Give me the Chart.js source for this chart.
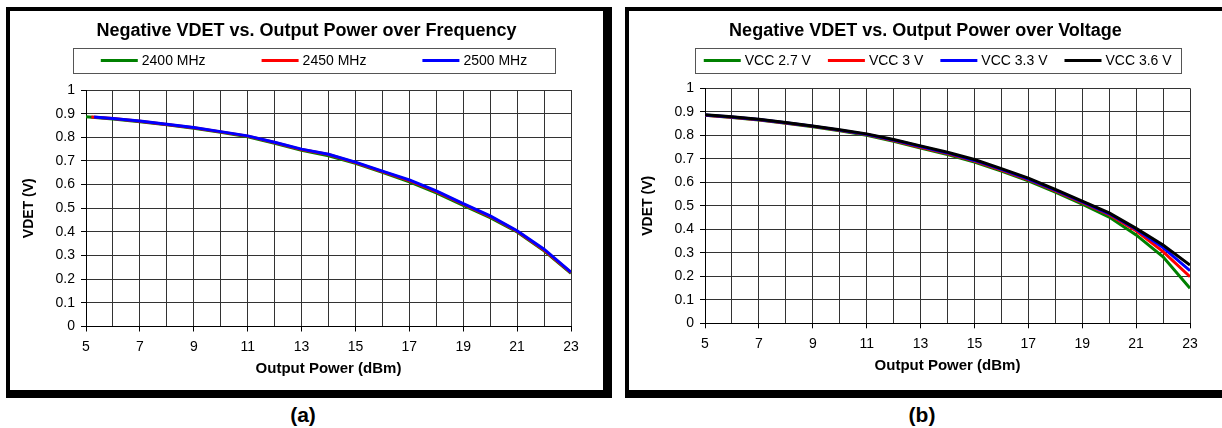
<!DOCTYPE html>
<html>
<head>
<meta charset="utf-8">
<script src="https://cdn.jsdelivr.net/npm/chart.js@4.4.1/dist/chart.umd.min.js"></script>
<style>
  html, body { margin: 0; padding: 0; background: #fff; width: 1222px; height: 428px; overflow: hidden;
    font-family: "Liberation Sans", Arial, sans-serif; }
  .panel { position: absolute; top: 7px; width: 593px; height: 379px; background: #fff;
    border-style: solid; border-color: #000; border-width: 4px 9px 8px 4px; }
  #panelA { left: 6px; }
  #panelB { left: 625px; }
  .panel canvas { display: block; }
  .cap { position: absolute; top: 403px; width: 100px; text-align: center; font-weight: bold;
    font-size: 21px; line-height: 24px; color: #000; }
</style>
</head>
<body>
<div class="panel" id="panelA"><canvas id="chartA" width="593" height="379"></canvas></div>
<div class="panel" id="panelB"><canvas id="chartB" width="593" height="379"></canvas></div>
<div class="cap" style="left:253px">(a)</div>
<div class="cap" style="left:872px">(b)</div>
<script>
// Output power sweep (dBm)
const powerDbm  = [5, 6, 7, 8, 9, 10, 11, 12, 13, 14, 15, 16, 17, 18, 19, 20, 21, 22, 23];
const power2450 = [5.2, 6, 7, 8, 9, 10, 11, 12, 13, 14, 15, 16, 17, 18, 19, 20, 21, 22, 23];
const power2500 = [5.3, 6, 7, 8, 9, 10, 11, 12, 13, 14, 15, 16, 17, 18, 19, 20, 21, 22, 23];

// Negative VDET (V) over frequency
const vdet2400 = [0.887, 0.877, 0.866, 0.853, 0.838, 0.821, 0.802, 0.775, 0.745, 0.722, 0.690, 0.652, 0.612, 0.565, 0.512, 0.460, 0.400, 0.320, 0.225];
const vdet2450 = [0.886, 0.879, 0.868, 0.854, 0.840, 0.823, 0.805, 0.778, 0.748, 0.727, 0.693, 0.655, 0.617, 0.570, 0.517, 0.465, 0.403, 0.323, 0.228];
const vdet2500 = [0.886, 0.880, 0.869, 0.855, 0.841, 0.824, 0.806, 0.779, 0.750, 0.728, 0.695, 0.657, 0.620, 0.573, 0.520, 0.468, 0.405, 0.327, 0.230];

// Negative VDET (V) over supply voltage
const vcc27 = [0.885, 0.876, 0.865, 0.851, 0.836, 0.819, 0.800, 0.775, 0.746, 0.718, 0.686, 0.648, 0.606, 0.558, 0.507, 0.452, 0.376, 0.283, 0.149];
const vcc30 = [0.885, 0.877, 0.866, 0.852, 0.838, 0.821, 0.803, 0.778, 0.749, 0.722, 0.690, 0.652, 0.611, 0.564, 0.514, 0.462, 0.394, 0.305, 0.198];
const vcc33 = [0.886, 0.878, 0.867, 0.853, 0.839, 0.822, 0.804, 0.780, 0.752, 0.725, 0.693, 0.655, 0.614, 0.567, 0.517, 0.466, 0.400, 0.322, 0.224];
const vcc36 = [0.887, 0.879, 0.868, 0.854, 0.840, 0.824, 0.806, 0.782, 0.755, 0.728, 0.697, 0.658, 0.618, 0.570, 0.520, 0.470, 0.404, 0.333, 0.248];

// Axis tick labels
const xTickLabels = [5, 7, 9, 11, 13, 15, 17, 19, 21, 23];
const yTickLabels = ['0', '0.1', '0.2', '0.3', '0.4', '0.5', '0.6', '0.7', '0.8', '0.9', '1'];

const FONT = '"Liberation Sans", Arial, sans-serif';
const GRID = '#333';

const pairs = (xs, ys) => xs.map((x, i) => ({ x: x, y: ys[i] }));

// Framed one-row legend with line samples
const boxedLegend = {
  id: 'boxedLegend',
  afterDraw(chart, args, opts) {
    const ctx = chart.ctx;
    ctx.save();
    ctx.font = '14px ' + FONT;
    const lineLen = 37, textGap = 4;
    const items = chart.data.datasets.map(ds => ({ label: ds.label, color: ds.borderColor, w: ctx.measureText(ds.label).width }));
    const total = items.reduce((s, it) => s + lineLen + textGap + it.w, 0) + opts.gap * (items.length - 1);
    let x = opts.centerX - total / 2;
    const left = Math.round(x - opts.padX);
    const right = Math.round(x + total + opts.padX);
    ctx.strokeStyle = '#555';
    ctx.lineWidth = 1;
    ctx.strokeRect(left + 0.5, opts.top + 0.5, right - left, opts.height);
    const cy = opts.top + opts.height / 2;
    items.forEach(it => {
      ctx.strokeStyle = it.color;
      ctx.lineWidth = 3;
      ctx.beginPath();
      ctx.moveTo(x, cy);
      ctx.lineTo(x + lineLen, cy);
      ctx.stroke();
      ctx.fillStyle = '#000';
      ctx.textBaseline = 'middle';
      ctx.textAlign = 'left';
      ctx.fillText(it.label, x + lineLen + textGap, cy + 1);
      x += lineLen + textGap + it.w + opts.gap;
    });
    ctx.restore();
  }
};

// later series are drawn on top of earlier ones
function lineSet(label, color, data, order) {
  return { label: label, data: data, borderColor: color, backgroundColor: color, borderWidth: 3,
    pointRadius: 0, pointHoverRadius: 0, tension: 0, fill: false, order: order };
}

function makeChart(id, title, datasets, geo) {
  return new Chart(document.getElementById(id), {
    type: 'line',
    data: { datasets: datasets },
    plugins: [boxedLegend],
    options: {
      responsive: false,
      animation: false,
      events: [],
      layout: { padding: 0 },
      plugins: {
        legend: { display: false },
        tooltip: { enabled: false },
        title: {
          display: true, text: title, color: '#000',
          font: { family: FONT, size: 18, weight: 'bold' },
          padding: { top: 9.2, bottom: geo.titleBottom }
        },
        boxedLegend: geo.legend
      },
      scales: {
        x: {
          type: 'linear', min: 5, max: 23,
          afterFit: s => { s.height = geo.xHeight; },
          ticks: {
            stepSize: 1, autoSkip: false, maxRotation: 0, color: '#000', padding: 7,
            font: { family: FONT, size: 14 },
            callback: v => (xTickLabels.includes(v) ? String(v) : '')
          },
          grid: {
            color: GRID, lineWidth: 1, tickLength: 5,
            tickColor: c => (c.tick && xTickLabels.includes(c.tick.value) ? '#000' : 'rgba(0,0,0,0)')
          },
          border: { color: '#000', width: 1 },
          title: {
            display: true, text: 'Output Power (dBm)', color: '#000',
            font: { family: FONT, size: 15, weight: 'bold' },
            padding: { top: 0, bottom: geo.xTitleBottom }
          }
        },
        y: {
          min: 0, max: 1,
          afterFit: s => { s.width = 76; },
          ticks: {
            stepSize: 0.1, color: '#000', padding: 6,
            font: { family: FONT, size: 14 },
            callback: v => yTickLabels[Math.round(v * 10)]
          },
          grid: { color: GRID, lineWidth: 1, tickLength: 5, tickColor: '#000' },
          border: { color: '#000', width: 1 },
          title: {
            display: true, text: 'VDET (V)', color: '#000',
            font: { family: FONT, size: 14, weight: 'bold' },
            padding: { top: 10.6, bottom: 0 }
          }
        },
        // empty right-hand margin so the plot ends short of the frame
        margin: {
          position: 'right', min: 0, max: 1,
          afterFit: s => { s.width = 32; },
          ticks: { display: false },
          grid: { display: false, drawOnChartArea: false },
          border: { display: false }
        }
      }
    }
  });
}

makeChart('chartA', 'Negative VDET vs. Output Power over Frequency', [
  lineSet('2400 MHz', '#008000', pairs(powerDbm, vdet2400), 3),
  lineSet('2450 MHz', '#ff0000', pairs(power2450, vdet2450), 2),
  lineSet('2500 MHz', '#0000ff', pairs(power2500, vdet2500), 1)
], {
  titleBottom: 48.2, xHeight: 63.5, xTitleBottom: 12,
  legend: { centerX: 304, gap: 56, padX: 28, top: 37, height: 25 }
});

makeChart('chartB', 'Negative VDET vs. Output Power over Voltage', [
  lineSet('VCC 2.7 V', '#008000', pairs(powerDbm, vcc27), 4),
  lineSet('VCC 3 V', '#ff0000', pairs(powerDbm, vcc30), 3),
  lineSet('VCC 3.3 V', '#0000ff', pairs(powerDbm, vcc33), 2),
  lineSet('VCC 3.6 V', '#000000', pairs(powerDbm, vcc36), 1)
], {
  titleBottom: 46.5, xHeight: 66.7, xTitleBottom: 15,
  legend: { centerX: 308.7, gap: 17, padX: 9, top: 37, height: 25 }
});
</script>
</body>
</html>
